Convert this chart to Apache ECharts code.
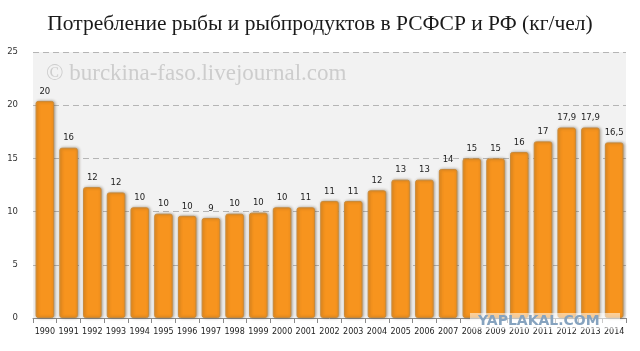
<!DOCTYPE html>
<html><head><meta charset="utf-8">
<script src="https://cdn.jsdelivr.net/npm/echarts@6/dist/echarts.min.js"></script>
<style>html,body{margin:0;padding:0;background:#fff}#c{width:640px;height:351px}</style>
</head><body><div id="c"></div>
<script>
const years = ['1990','1991','1992','1993','1994','1995','1996','1997','1998','1999','2000','2001','2002','2003','2004','2005','2006','2007','2008','2009','2010','2011','2012','2013','2014'];
const values = [20.4,16.0,12.3,11.8,10.4,9.8,9.6,9.4,9.8,9.9,10.4,10.4,11.0,11.0,12.0,13.0,13.0,14.0,15.0,15.0,15.6,16.6,17.9,17.9,16.5];
const labels = ['20','16','12','12','10','10','10','9','10','10','10','11','11','11','12','13','13','14','15','15','16','17','17,9','17,9','16,5'];
const yTicks = [0,5,10,15,20,25];
const titleText = 'Потребление рыбы и рыбпродуктов в РСФСР и РФ (кг/чел)';
const watermark = '© burckina-faso.livejournal.com';

const chart = echarts.init(document.getElementById('c'), null, {renderer:'canvas'});
chart.setOption({
  animation:false,
  backgroundColor:'#fff',
  title:{text:titleText,left:'center',top:8,textStyle:{fontFamily:'Liberation Serif',fontSize:21.5,fontWeight:'normal',color:'#1a1a1a'}},
  graphic:[
    {type:'text',left:46,top:62,style:{text:watermark,fontFamily:'Liberation Serif',fontSize:23,fill:'#cdcdcd'},z:1},
    {type:'rect',left:470,top:313,shape:{width:150,height:16},style:{fill:'rgba(255,255,255,0.55)'},z:100},
    {type:'text',left:478,top:314,style:{text:'YAPLAKAL.COM',fontFamily:'DejaVu Sans',fontWeight:'bold',fontSize:14,fill:'#86a3bf'},z:101}
  ],
  grid:{left:33,right:14,top:52,bottom:33,show:true,backgroundColor:'#f2f2f2',borderWidth:0},
  xAxis:{type:'category',data:years,
    axisLine:{lineStyle:{color:'#8a8a8a'}},
    axisTick:{show:true,alignWithLabel:false,lineStyle:{color:'#8a8a8a'}},
    axisLabel:{fontFamily:'DejaVu Sans',fontSize:8,color:'#222',margin:10,interval:0}},
  yAxis:{type:'value',min:0,max:25,interval:5,
    axisLine:{show:false},axisTick:{show:false},
    axisLabel:{fontFamily:'DejaVu Sans',fontSize:8.5,color:'#333',margin:15,formatter:v=>yTicks.includes(v)?String(v):''},
    splitLine:{lineStyle:{color:'#b5b5b5',type:[6,4]}}},
  series:[{type:'bar',data:values,barCategoryGap:'22%',
    itemStyle:{color:'#f7941e',borderColor:'#c98a3a',borderWidth:1,borderRadius:2,shadowColor:'rgba(80,60,30,0.45)',shadowBlur:3,shadowOffsetX:1,shadowOffsetY:0},
    label:{show:true,position:'top',distance:5,fontFamily:'DejaVu Sans',fontSize:8.5,color:'#222',formatter:p=>labels[p.dataIndex]}}]
});
</script></body></html>
